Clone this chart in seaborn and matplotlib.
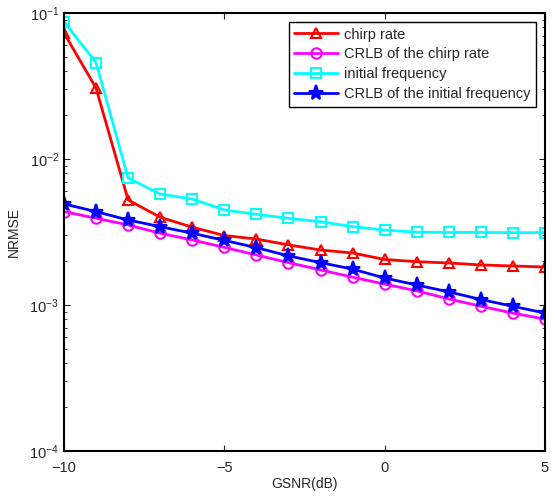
import matplotlib
matplotlib.use("Agg")
import matplotlib.pyplot as plt
import pandas as pd
import seaborn as sns

# GSNR values (dB)
gsnr = list(range(-10, 6))

# NRMSE
chirp_rate = [0.0729, 0.0306, 0.00524, 0.00399, 0.00341, 0.00299, 0.00283, 0.00258,
              0.00238, 0.00227, 0.00205, 0.00198, 0.00194, 0.00188, 0.00185, 0.00182]
crlb_chirp_rate = [0.00436, 0.00393, 0.00353, 0.00310, 0.00279, 0.00248, 0.00220, 0.00195,
                   0.00174, 0.00155, 0.00139, 0.00125, 0.00110, 0.00098, 0.00088, 0.00080]
initial_freq = [0.087, 0.0457, 0.0074, 0.00575, 0.00532, 0.00448, 0.00418, 0.00392,
                0.00372, 0.00344, 0.00326, 0.00315, 0.00314, 0.00314, 0.00313, 0.00313]
crlb_initial_freq = [0.00492, 0.00436, 0.00382, 0.00344, 0.00310, 0.00277, 0.00247, 0.00217,
                     0.00195, 0.00176, 0.00153, 0.00137, 0.00123, 0.00109, 0.00098, 0.00088]

series_names = ["chirp rate", "CRLB of the chirp rate", "initial frequency",
                "CRLB of the initial frequency"]
series_values = [chirp_rate, crlb_chirp_rate, initial_freq, crlb_initial_freq]
colors = ["#ff0000", "#ff00ff", "#00ffff", "#0000ff"]
markers = ["^", "o", "s", "*"]

rows = []
for name, vals in zip(series_names, series_values):
    for x, v in zip(gsnr, vals):
        rows.append({"GSNR": x, "NRMSE": v, "series": name})
df = pd.DataFrame(rows)

sns.set_style("ticks")
plt.rcParams["font.family"] = ["Liberation Sans", "DejaVu Sans"]
plt.rcParams["mathtext.default"] = "regular"
plt.rcParams["xtick.direction"] = "in"
plt.rcParams["ytick.direction"] = "in"
plt.rcParams["xtick.top"] = True
plt.rcParams["ytick.right"] = True

fig = plt.figure(figsize=(5.55, 4.99), dpi=100)
ax = fig.add_axes([0.1153, 0.0962, 0.8667, 0.8778])

for name, color, mk in zip(series_names, colors, markers):
    sub = df[df["series"] == name]
    filled = mk == "*"
    sns.lineplot(data=sub, x="GSNR", y="NRMSE", ax=ax, color=color, label=name,
                 linewidth=2, marker=mk, markersize=11 if filled else 7.5,
                 markerfacecolor=color if filled else "none",
                 markeredgecolor=color, markeredgewidth=1.5)

ax.set_yscale("log")
ax.set_xlim(-10, 5)
ax.set_ylim(1e-4, 1e-1)
ax.set_xticks([-10, -5, 0, 5])
ax.set_xlabel("GSNR(dB)", fontsize=10, labelpad=2)
ax.set_ylabel("NRMSE", fontsize=10, labelpad=6)
ax.tick_params(labelsize=10.5, width=0.8, length=4)
ax.tick_params(axis="x", pad=7)
ax.tick_params(which="minor", width=0.6, length=2.5)
for sp in ax.spines.values():
    sp.set_linewidth(1.5)
    sp.set_color("black")

leg = ax.legend(loc="upper right", fontsize=10.5, fancybox=False, edgecolor="black",
                framealpha=1, handlelength=3.0, borderaxespad=0.6, borderpad=0.4,
                labelspacing=0.4, handletextpad=0.4)
leg.get_frame().set_linewidth(1.0)

fig.savefig("out.png", dpi=100)
